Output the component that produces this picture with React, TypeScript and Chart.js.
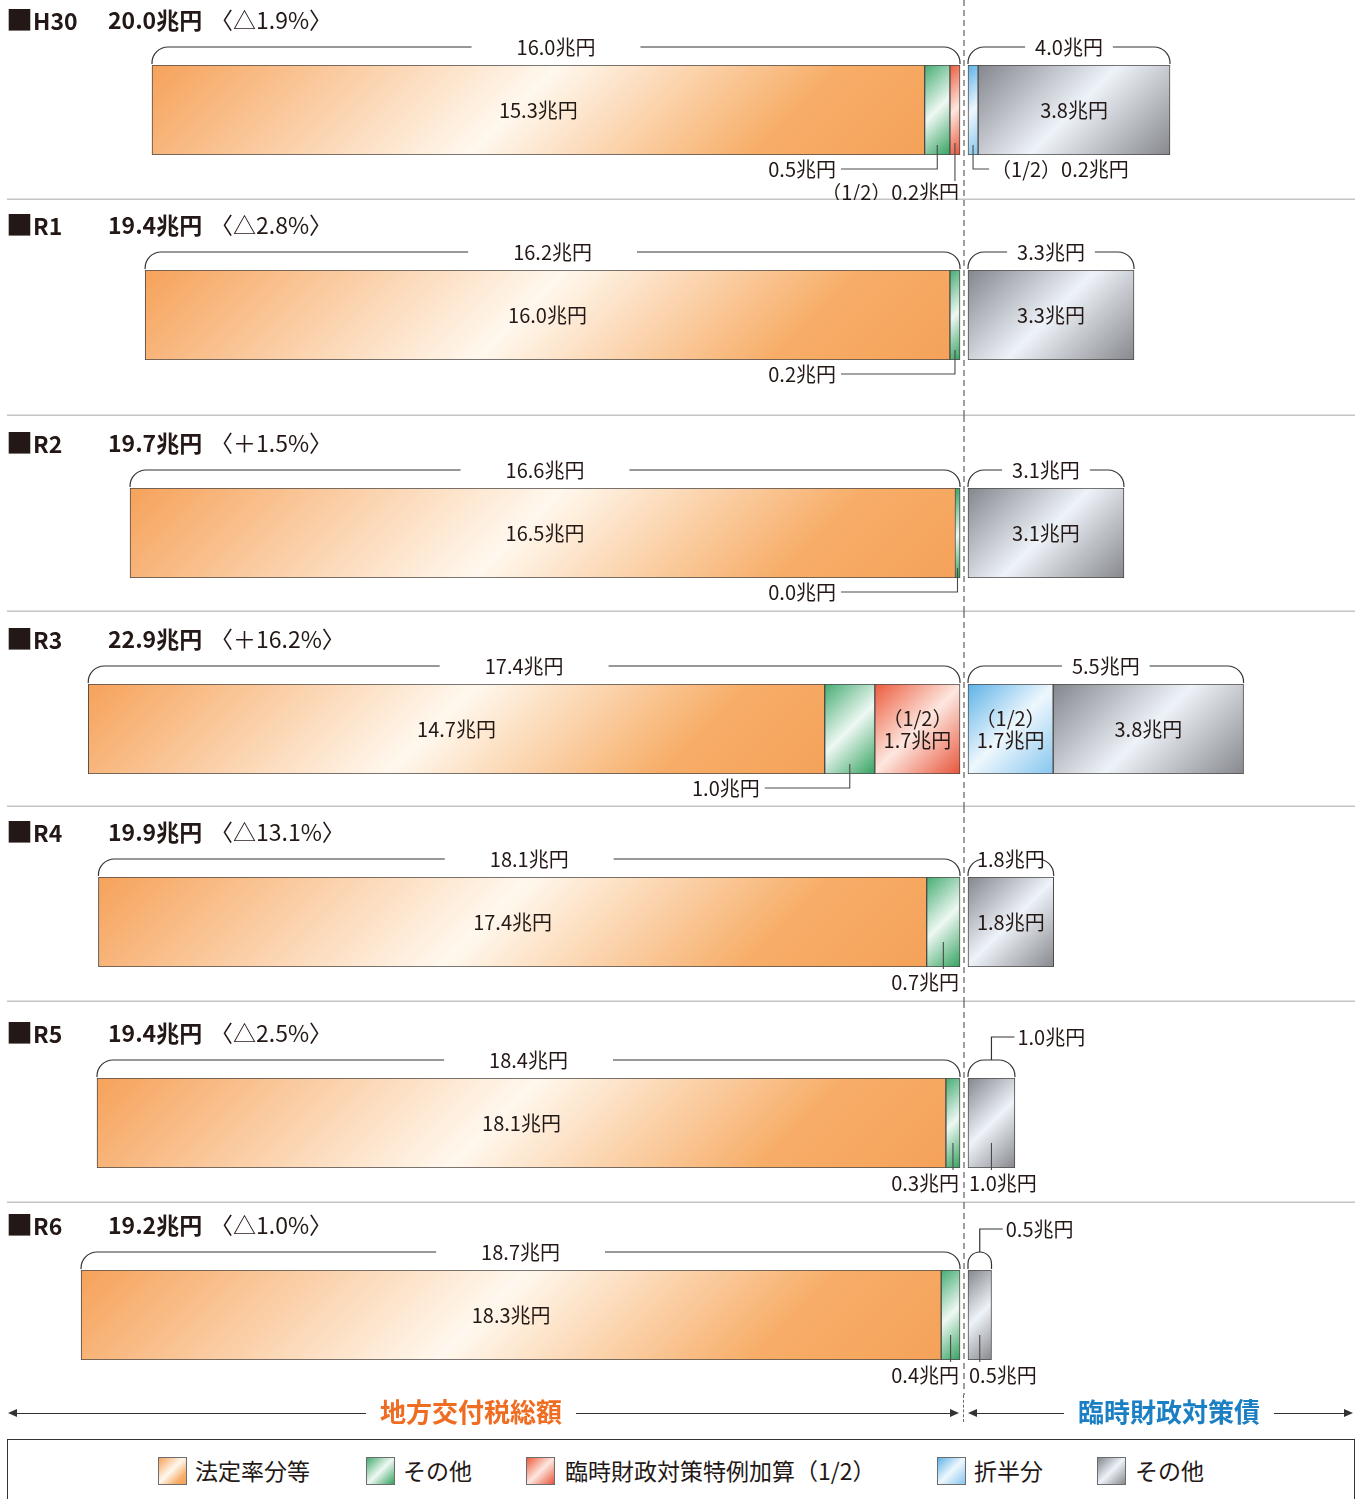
import React, { useEffect, useRef } from 'react';
import { Chart, registerables } from 'chart.js';
Chart.register(...registerables);

// ---------------- data ----------------
const YEARS = ['H30', 'R1', 'R2', 'R3', 'R4', 'R5', 'R6'];
const TOTAL_LABELS = ['20.0兆円', '19.4兆円', '19.7兆円', '22.9兆円', '19.9兆円', '19.4兆円', '19.2兆円'];
const CHANGE_LABELS = ['〈△1.9%〉', '〈△2.8%〉', '〈＋1.5%〉', '〈＋16.2%〉', '〈△13.1%〉', '〈△2.5%〉', '〈△1.0%〉'];
// 地方交付税総額の内訳
const HOUTEI = [15.3, 16.0, 16.5, 14.7, 17.4, 18.1, 18.3]; // 法定率分等
const SONOTA_KOFU = [0.5, 0.2, 0.0, 1.0, 0.7, 0.3, 0.4]; // その他
const TOKUREI = [0.2, 0, 0, 1.7, 0, 0, 0]; // 臨時財政対策特例加算（1/2）
// 臨時財政対策債の内訳
const SEPPAN = [0.2, 0, 0, 1.7, 0, 0, 0]; // 折半分
const SONOTA_RINZAI = [3.8, 3.3, 3.1, 3.8, 1.8, 1.0, 0.5]; // その他
const KOFU_TOTAL = [16.0, 16.2, 16.6, 17.4, 18.1, 18.4, 18.7];
const RINZAI_TOTAL = [4.0, 3.3, 3.1, 5.5, 1.8, 1.0, 0.5];
const LEGEND_LABELS = ['法定率分等', 'その他', '臨時財政対策特例加算（1/2）', '折半分', 'その他'];

// ---------------- layout / style ----------------
const W = 1362;
const ZERO_X = 964;
const HALF_GAP = 4;
const BAR_H = 90;
const ROW_TOPS = [0, 200, 416, 612, 807, 1002, 1203, 1395];
const BAR_TOPS = [65, 270, 488, 684, 877, 1078, 1270];
const PX_PER_UNIT = [50.5, 50.3, 50.3, 50.1, 47.6, 46.9, 47.0];
const GREEN_LEADER = ['elbow', 'elbow', 'elbow', 'elbow', 'drop', 'drop', 'drop'];
const FONT = '"Noto Sans CJK JP", "Noto Sans", sans-serif';
const INK = '#231815';
const LEADER = '#4a4a4a';

type Stops = [number, string][];
const ORANGE: Stops = [[0, '#f6a25a'], [0.47, '#fff8ee'], [0.8, '#f7ad68'], [1, '#f5a259']];
const GREEN: Stops = [[0, '#45ac72'], [0.5, '#eef8f3'], [1, '#33a25f']];
const RED: Stops = [[0, '#ec5b3d'], [0.5, '#fde7df'], [1, '#e8543a']];
const BLUE: Stops = [[0, '#5db2e7'], [0.5, '#eef7fd'], [1, '#86c6ee']];
const GRAY: Stops = [[0, '#83868c'], [0.5, '#eef3f9'], [1, '#86888d']];
const LEGEND_STOPS = [ORANGE, GREEN, RED, BLUE, GRAY];
const LEGEND_SWATCH_X = [158, 366, 526, 937, 1097];
const LEGEND_TEXT_X = [195, 403, 565, 974, 1135];

function makeGrad(ctx: CanvasRenderingContext2D, xa: number, xb: number, y0: number, y1: number, stops: Stops) {
  const l = Math.min(xa, xb);
  const r = Math.max(xa, xb);
  const d = (r - l + (y1 - y0)) / 2;
  const g = ctx.createLinearGradient(l, y0, l + d, y0 + d);
  stops.forEach(([o, c]) => g.addColorStop(o, c));
  return g;
}

function fmt(v: number) {
  return v.toFixed(1) + '兆円';
}

function buildConfig(i: number) {
  const k = PX_PER_UNIT[i];
  const g = HALF_GAP / k;
  const t = TOKUREI[i];
  const s = SONOTA_KOFU[i];
  const h = HOUTEI[i];
  const p = SEPPAN[i];
  const o = SONOTA_RINZAI[i];
  const rowTop = ROW_TOPS[i];
  const rowBottom = ROW_TOPS[i + 1];
  const barTop = BAR_TOPS[i];

  const bg = (stops: Stops) => (c: any) => {
    const chart = c.chart;
    const area = chart.chartArea;
    const raw = c.raw as number[] | null;
    const xs = chart.scales && chart.scales.x;
    if (!area || !raw || !xs) return stops[0][1];
    return makeGrad(chart.ctx, xs.getPixelForValue(raw[0]), xs.getPixelForValue(raw[1]), area.top, area.bottom, stops);
  };

  const common = {
    grouped: false,
    barThickness: BAR_H,
    borderWidth: 1,
    borderColor: '#4d4a48',
    borderSkipped: false,
  };

  const datasets: any[] = [
    { ...common, label: 'その他', data: [[-(g + t + s), -(g + t)]], minBarLength: 5, backgroundColor: bg(GREEN) },
    { ...common, label: '臨時財政対策特例加算（1/2）', data: [t > 0 ? [-(g + t), -g] : null], backgroundColor: bg(RED) },
    { ...common, label: '法定率分等', data: [[-(g + t + s + h), -(g + t + s)]], backgroundColor: bg(ORANGE) },
    { ...common, label: '折半分', data: [p > 0 ? [g, g + p] : null], backgroundColor: bg(BLUE) },
    { ...common, label: 'その他（臨財債）', data: [[g + p, g + p + o]], backgroundColor: bg(GRAY) },
  ];

  const plugin = {
    id: 'rowAnnot' + i,
    afterDatasetsDraw(chart: any) {
      const ctx: CanvasRenderingContext2D = chart.ctx;
      const xs = chart.scales.x;
      const area = chart.chartArea;
      const top = area.top;
      const bot = area.bottom;
      const yc = (top + bot) / 2;
      const P = (v: number) => xs.getPixelForValue(v);
      const H = chart.height;
      ctx.save();

      // separator
      if (i < YEARS.length - 1) {
        ctx.strokeStyle = '#c4c4c4';
        ctx.lineWidth = 1.5;
        ctx.beginPath();
        ctx.moveTo(7, H - 0.75);
        ctx.lineTo(1355, H - 0.75);
        ctx.stroke();
      }
      // center dashed line
      ctx.strokeStyle = '#6b6b6b';
      ctx.lineWidth = 1.3;
      ctx.setLineDash([6, 4]);
      ctx.beginPath();
      ctx.moveTo(P(0), 0);
      ctx.lineTo(P(0), H);
      ctx.stroke();
      ctx.setLineDash([]);

      ctx.font = `20px ${FONT}`;
      ctx.fillStyle = INK;
      ctx.textBaseline = 'middle';
      const txt = (s: string, x: number, y: number, al: CanvasTextAlign) => {
        ctx.textAlign = al;
        ctx.fillText(s, x, y);
      };
      const path = (pts: number[][]) => {
        ctx.beginPath();
        ctx.moveTo(pts[0][0], pts[0][1]);
        for (let j = 1; j < pts.length; j++) ctx.lineTo(pts[j][0], pts[j][1]);
        ctx.stroke();
      };

      const xL0 = P(-(g + t + s + h));
      const xL1 = P(-g);
      const xR0 = P(g);
      const xR1 = P(g + p + o);
      const yLine = top - 18;
      const yBase = top - 1;

      const bracket = (x0: number, x1: number, gapL: number | null, gapR: number | null) => {
        const r = Math.min(16, (x1 - x0) / 2, yBase - yLine);
        ctx.beginPath();
        ctx.moveTo(x0, yBase);
        ctx.lineTo(x0, yLine + r);
        ctx.arcTo(x0, yLine, x0 + r, yLine, r);
        if (gapL === null) {
          ctx.lineTo(x1 - r, yLine);
        } else {
          if (gapL > x0 + r) ctx.lineTo(gapL, yLine);
          ctx.moveTo(Math.min(gapR as number, x1 - r), yLine);
        }
        ctx.arcTo(x1, yLine, x1, yLine + r, r);
        ctx.lineTo(x1, yBase);
        ctx.stroke();
      };

      ctx.strokeStyle = '#333';
      ctx.lineWidth = 1.2;
      // left bracket
      {
        const lab = fmt(KOFU_TOTAL[i]);
        const tw = ctx.measureText(lab).width;
        const cx = (xL0 + xL1) / 2;
        bracket(xL0, xL1, cx - tw / 2 - 45, cx + tw / 2 + 45);
        txt(lab, cx, yLine, 'center');
      }
      // right bracket
      {
        const lab = fmt(RINZAI_TOTAL[i]);
        const tw = ctx.measureText(lab).width;
        const cx = (xR0 + xR1) / 2;
        if (xR1 - xR0 >= tw + 10) {
          bracket(xR0, xR1, cx - tw / 2 - 10, cx + tw / 2 + 10);
          txt(lab, cx, yLine, 'center');
        } else {
          bracket(xR0, xR1, null, null);
          const ly = top - 41;
          path([[cx, yLine], [cx, ly], [cx + 23, ly]]);
          txt(lab, cx + 26, ly, 'left');
        }
      }

      // inside labels
      const orangeR = P(-(g + t + s));
      txt(fmt(h), (xL0 + orangeR) / 2, yc, 'center');
      const grayL = P(g + p);
      if (xR1 - grayL >= 70) txt(fmt(o), (grayL + xR1) / 2, yc, 'center');

      ctx.strokeStyle = LEADER;
      ctx.lineWidth = 1.1;
      // green (その他)
      {
        const gx0 = P(-(g + t + s));
        const gx1 = P(-(g + t));
        const cx = gx1 - gx0 < 5 ? gx1 - 2.5 : (gx0 + gx1) / 2;
        const lab = fmt(s);
        if (GREEN_LEADER[i] === 'elbow') {
          const ly = bot + 14;
          const lr = Math.min(836, cx - 90);
          path([[cx, bot - 10], [cx, ly], [lr + 5, ly]]);
          txt(lab, lr, ly, 'right');
        } else {
          path([[cx, bot - 25], [cx, bot + 2]]);
          txt(lab, xL1 - 1, bot + 15, 'right');
        }
      }
      // red (特例加算)
      if (t > 0) {
        const rx0 = P(-(g + t));
        const cx = (rx0 + xL1) / 2;
        if (xL1 - rx0 >= 60) {
          txt('（1/2）', cx, yc - 11, 'center');
          txt(fmt(t), cx, yc + 11, 'center');
        } else {
          path([[cx, bot - 12], [cx, bot + 26]]);
          txt('（1/2）' + fmt(t), xL1 - 1, bot + 37, 'right');
        }
      }
      // blue (折半分)
      if (p > 0) {
        const bx1 = P(g + p);
        const cx = (xR0 + bx1) / 2;
        if (bx1 - xR0 >= 60) {
          txt('（1/2）', cx, yc - 11, 'center');
          txt(fmt(p), cx, yc + 11, 'center');
        } else {
          const ly = bot + 14;
          path([[cx, bot - 10], [cx, ly], [cx + 16, ly]]);
          txt('（1/2）' + fmt(p), cx + 18, ly, 'left');
        }
      }
      // gray narrow
      if (xR1 - grayL < 70) {
        const cx = (grayL + xR1) / 2;
        path([[cx, bot - 25], [cx, bot + 2]]);
        txt(fmt(o), xR0 + 1, bot + 15, 'left');
      }
      ctx.restore();
    },
  };

  return {
    type: 'bar',
    data: { labels: [YEARS[i]], datasets },
    options: {
      indexAxis: 'y',
      responsive: true,
      maintainAspectRatio: false,
      animation: false,
      events: [],
      layout: {
        padding: { top: barTop - rowTop, bottom: rowBottom - barTop - BAR_H, left: 0, right: 0 },
      },
      scales: {
        x: { type: 'linear', display: false, min: -ZERO_X / k, max: (W - ZERO_X) / k },
        y: { type: 'category', display: false },
      },
      plugins: { legend: { display: false }, tooltip: { enabled: false } },
    },
    plugins: [plugin],
  };
}

function RowChart({ i }: { i: number }) {
  const ref = useRef<HTMLCanvasElement | null>(null);
  const rowTop = ROW_TOPS[i];
  const rowH = ROW_TOPS[i + 1] - rowTop;
  useEffect(() => {
    if (!ref.current) return;
    const chart = new Chart(ref.current, buildConfig(i) as any);
    return () => chart.destroy();
  }, [i]);
  const hy = BAR_TOPS[i] - 45 - rowTop;
  const base: React.CSSProperties = {
    position: 'absolute',
    top: hy - 17,
    lineHeight: '32px',
    height: 32,
    fontFamily: FONT,
    color: INK,
    whiteSpace: 'nowrap',
    fontSize: 23,
  };
  return (
    <div style={{ position: 'absolute', left: 0, top: rowTop, width: W, height: rowH }}>
      <canvas ref={ref} />
      <div style={{ ...base, left: 6, fontWeight: 700 }}>
        <span style={{ fontSize: 27 }}>■</span>
        <span>{YEARS[i]}</span>
      </div>
      <div style={{ ...base, left: 108, fontWeight: 700 }}>{TOTAL_LABELS[i]}</div>
      <div style={{ ...base, left: 210 }}>{CHANGE_LABELS[i]}</div>
    </div>
  );
}

function Arrow({ x, dir }: { x: number; dir: 'l' | 'r' }) {
  const st: React.CSSProperties = {
    position: 'absolute',
    top: 1409,
    width: 0,
    height: 0,
    borderTop: '4px solid transparent',
    borderBottom: '4px solid transparent',
  };
  if (dir === 'l') return <div style={{ ...st, left: x, borderRight: '9px solid #333' }} />;
  return <div style={{ ...st, left: x - 9, borderLeft: '9px solid #333' }} />;
}

export default function App() {
  const titleBase: React.CSSProperties = {
    position: 'absolute',
    top: 1396,
    lineHeight: '30px',
    height: 30,
    fontSize: 26,
    fontWeight: 700,
    fontFamily: FONT,
    background: '#fff',
    padding: '0 14px',
    whiteSpace: 'nowrap',
  };
  return (
    <div style={{ position: 'absolute', left: 0, top: 0, width: W, height: 1499, overflow: 'hidden', background: '#fff' }}>
      {YEARS.map((_, i) => (
        <RowChart key={i} i={i} />
      ))}
      {/* bottom arrows */}
      <div style={{ position: 'absolute', left: 963.3, top: 1395, height: 27, borderLeft: '1.3px dashed #6b6b6b' }} />
      <div style={{ position: 'absolute', left: 10, top: 1412.5, width: 946, height: 1.5, background: '#333' }} />
      <Arrow x={8} dir="l" />
      <Arrow x={959} dir="r" />
      <div style={{ position: 'absolute', left: 970, top: 1412.5, width: 380, height: 1.5, background: '#333' }} />
      <Arrow x={968} dir="l" />
      <Arrow x={1353} dir="r" />
      <div style={{ ...titleBase, left: 366, color: '#ef6c23' }}>地方交付税総額</div>
      <div style={{ ...titleBase, left: 1064, color: '#1b7fc3' }}>臨時財政対策債</div>
      {/* legend */}
      <div
        style={{
          position: 'absolute',
          left: 7,
          top: 1439,
          width: 1348,
          height: 90,
          border: '1.5px solid #333',
          boxSizing: 'border-box',
        }}
      />
      {LEGEND_LABELS.map((lab, j) => (
        <React.Fragment key={j}>
          <div
            style={{
              position: 'absolute',
              left: LEGEND_SWATCH_X[j],
              top: 1457,
              width: 29,
              height: 28,
              boxSizing: 'border-box',
              border: '1px solid #6d6d6d',
              background: `linear-gradient(135deg, ${LEGEND_STOPS[j]
                .map(([o, c]) => `${c} ${Math.round(o * 100)}%`)
                .join(', ')})`,
            }}
          />
          <div
            style={{
              position: 'absolute',
              left: LEGEND_TEXT_X[j],
              top: 1455,
              lineHeight: '30px',
              fontSize: 23,
              fontFamily: FONT,
              color: INK,
              whiteSpace: 'nowrap',
            }}
          >
            {lab}
          </div>
        </React.Fragment>
      ))}
    </div>
  );
}
